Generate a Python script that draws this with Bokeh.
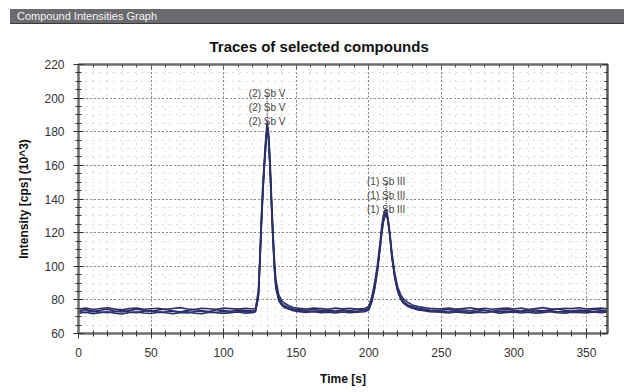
from bokeh.plotting import figure
from bokeh.models import Div, LinearAxis, SingleIntervalTicker, Range1d, ColumnDataSource, CustomJSTickFormatter
from bokeh.layouts import column
from bokeh.core.properties import value
from bokeh.embed import file_html
from bokeh.resources import INLINE

# ---------------- data ----------------
time_s = [
    0, 5, 10, 15, 20, 25, 30, 35, 40, 45, 50, 55, 60, 65, 70, 75, 80, 85, 90, 95, 100, 105, 110, 115, 120,
    122, 124, 125, 126, 127, 128, 129, 130, 131, 132, 133, 134, 135, 136, 138, 140, 142, 145, 148,
    152, 157, 162, 167, 172, 177, 182, 187, 192, 197,
    200, 202, 204, 206, 208, 209, 210, 211, 212, 213, 214, 215, 216, 218, 220, 222, 224, 227, 230, 234, 238, 242, 246,
    250, 255, 260, 265, 270, 275, 280, 285, 290, 295, 300, 305, 310, 315, 320, 325, 330, 335, 340, 345, 350, 355, 360, 364,
]

trace_1 = [
    73.5, 74.2, 73.0, 73.8, 74.5, 73.2, 72.8, 73.6, 74.4, 73.9, 73.1, 74.0, 74.6, 73.4, 72.9, 73.7, 74.3, 73.5, 73.0, 74.1, 73.6, 73.2, 74.0, 73.8, 73.3,
    74, 84, 104, 126, 145, 160, 173, 184, 177, 160, 138, 118, 101, 89, 81, 78, 76.5, 75.5, 74.5,
    74.2, 73.8, 74.4, 73.6, 74.0, 73.4, 74.1, 73.7, 74.3, 73.9,
    75, 80, 88, 99, 114, 122, 128, 131, 132, 129, 123, 115, 106, 94, 86, 81.5, 79, 77, 76, 75, 74.5, 74, 73.8,
    73.9, 74.3, 73.6, 74.1, 73.5, 74.4, 73.8, 73.2, 74.0, 74.5, 73.7, 73.3, 74.2, 73.9, 73.5, 74.1, 74.6, 73.8, 73.4, 74.0, 73.6, 74.3, 73.9, 73.7,
]
trace_2 = [
    72.0, 72.6, 71.8, 72.4, 72.9, 72.1, 71.6, 72.5, 72.8, 72.2, 71.9, 72.7, 72.3, 71.7, 72.4, 72.9, 72.0, 71.8, 72.6, 72.3, 71.9, 72.5, 72.8, 72.1, 72.4,
    73, 82, 101, 123, 143, 158, 171, 182, 176, 158, 136, 116, 99, 88, 80, 77, 75.5, 74.5, 73.5,
    73.0, 72.5, 72.9, 72.3, 72.7, 72.2, 72.8, 72.4, 72.6, 72.9,
    74, 78.5, 86, 97, 112, 120, 126, 129.5, 130.5, 128, 122, 114, 105, 93, 85, 80.5, 78, 76, 75, 74, 73.5, 73, 72.8,
    72.6, 72.2, 72.8, 72.4, 72.0, 72.7, 72.3, 72.9, 72.1, 72.5, 72.8, 72.2, 72.6, 72.0, 72.4, 72.9, 72.3, 72.1, 72.7, 72.5, 72.2, 72.8, 72.4, 72.6,
]
trace_3 = [
    74.6, 75.1, 74.3, 74.9, 75.3, 74.5, 74.1, 74.8, 75.2, 74.4, 74.7, 75.0, 74.2, 74.9, 75.4, 74.6, 74.3, 75.0, 74.7, 74.4, 75.1, 74.8, 74.5, 75.0, 74.6,
    75, 86, 107, 129, 148, 163, 176, 186, 179, 163, 141, 121, 104, 92, 83, 79.5, 78, 76.5, 75.5,
    75.0, 74.6, 75.2, 74.8, 74.4, 75.1, 74.7, 75.0, 74.5, 74.9,
    76, 81.5, 90, 101, 116, 124, 130, 133, 133.5, 130, 124, 116, 107.5, 95.5, 87.5, 83, 80.5, 78.5, 77, 76, 75.5, 75, 74.8,
    74.7, 75.2, 74.5, 74.9, 75.3, 74.6, 75.0, 74.4, 74.8, 75.2, 74.6, 75.1, 74.3, 74.9, 75.4, 74.7, 74.5, 75.0, 74.8, 75.3, 74.6, 74.9, 75.1, 74.7,
]
trace_4 = [
    73.0, 72.5, 73.4, 72.8, 72.3, 73.1, 73.6, 72.7, 72.4, 73.2, 73.5, 72.6, 72.9, 73.3, 72.5, 72.2, 73.0, 73.4, 72.8, 72.6, 73.1, 72.4, 72.9, 73.3, 72.7,
    73.5, 83, 103, 125, 144, 159, 172, 183, 175, 157, 135, 115, 98, 87, 79.5, 77, 75.5, 74.5, 74,
    73.6, 73.1, 73.4, 72.9, 73.3, 72.8, 73.5, 73.0, 73.2, 73.6,
    74.5, 79, 87, 98, 113, 121, 127, 130, 131, 128, 122, 114, 105, 93, 85, 80.5, 78, 76.5, 75.5, 74.5, 74, 73.5, 73.2,
    73.2, 72.8, 73.5, 73.0, 72.6, 73.3, 73.7, 72.9, 73.1, 73.4, 72.7, 73.0, 73.5, 72.8, 73.2, 73.6, 72.9, 73.1, 72.7, 73.3, 73.0, 72.8, 73.4, 73.1,
]
traces = [trace_1, trace_2, trace_3, trace_4]
for t in traces:
    assert len(t) == len(time_s), (len(t), len(time_s))

compound_names = ["(2) Sb V", "(1) Sb III"]
compound_times = [130, 212]
n_labels_per_compound = 3

x_ticks_interval = 50
y_ticks_interval = 20

# ---------------- figure ----------------
FONT = "Liberation Sans"
LINE_COLOR = "#2b3068"

bar = Div(
    text=(
        '<div style="margin-top:9px;margin-left:10px;width:614px;height:15px;background:#6b6b6f;'
        'border-bottom:1px solid #3a3a3a;color:#f4f4f4;font-family:\'Liberation Sans\',Arial,sans-serif;'
        'font-size:11px;line-height:15px;padding-left:7px;box-sizing:border-box;white-space:nowrap;">'
        'Compound Intensities Graph</div>'
    ),
    width=624, height=25, margin=0,
)

p = figure(
    width=624, height=367,
    x_range=Range1d(0, 364.5), y_range=Range1d(60, 220),
    output_backend="svg", toolbar_location=None,
    min_border_left=78, min_border_right=17, min_border_top=39, min_border_bottom=59,
    title="Traces of selected compounds",
    x_axis_label="Time [s]", y_axis_label="Intensity [cps] (10^3)",
)
p.title.align = "left"
p.title.offset = 131
p.title.standoff = 20
p.title.text_font = FONT
p.title.text_font_size = "15px"
p.title.text_font_style = "bold"
p.title.text_color = "#111111"

p.background_fill_color = "white"
p.border_fill_color = "white"
p.outline_line_color = "#6e6e6e"
p.outline_line_width = 2

p.xaxis.ticker = SingleIntervalTicker(interval=x_ticks_interval, num_minor_ticks=5)
p.yaxis.ticker = SingleIntervalTicker(interval=y_ticks_interval, num_minor_ticks=4)

for ax in (p.xaxis[0], p.yaxis[0]):
    ax.axis_line_color = "#6e6e6e"
    ax.axis_line_width = 2
    ax.major_tick_line_color = "#333333"
    ax.minor_tick_line_color = "#333333"
    ax.major_tick_in = 5
    ax.major_tick_out = 5
    ax.minor_tick_in = 3
    ax.minor_tick_out = 3
    ax.major_label_text_font = FONT
    ax.major_label_text_font_size = "12px"
    ax.major_label_text_color = "#333333"
    ax.major_label_standoff = 9
    ax.axis_label_text_font = FONT
    ax.axis_label_text_font_size = "12px"
    ax.axis_label_text_font_style = "bold"
    ax.axis_label_text_color = "#111111"
p.xaxis.axis_label_standoff = 12
p.yaxis.axis_label_standoff = 10

top_axis = LinearAxis(
    ticker=SingleIntervalTicker(interval=x_ticks_interval, num_minor_ticks=5),
    formatter=CustomJSTickFormatter(code="return '';"), major_label_standoff=0,
    axis_line_color="#6e6e6e", axis_line_width=2,
    major_tick_in=5, major_tick_out=0, minor_tick_in=3, minor_tick_out=0,
    major_tick_line_color="#555555", minor_tick_line_color="#555555",
)
right_axis = LinearAxis(
    ticker=SingleIntervalTicker(interval=y_ticks_interval, num_minor_ticks=4),
    formatter=CustomJSTickFormatter(code="return '';"), major_label_standoff=0,
    axis_line_color="#555555", axis_line_width=2,
    major_tick_in=5, major_tick_out=0, minor_tick_in=3, minor_tick_out=0,
    major_tick_line_color="#333333", minor_tick_line_color="#333333",
)
p.add_layout(top_axis, "above")
p.add_layout(right_axis, "right")

for g in (p.xgrid[0], p.ygrid[0]):
    g.grid_line_color = "#222222"
    g.grid_line_dash = "1 3"
    g.grid_line_width = 1
    g.minor_grid_line_color = "#b4b4b4"
    g.minor_grid_line_dash = "1 6"
    g.minor_grid_line_width = 1

for tr in traces:
    p.line(time_s, tr, line_color=LINE_COLOR, line_width=1.6)

# peak labels and leader lines
lab_x, lab_y, lab_text, lab_off = [], [], [], []
seg_x, seg_y0, seg_y1 = [], [], []
for name, rt in zip(compound_names, compound_times):
    i = min(range(len(time_s)), key=lambda k: abs(time_s[k] - rt))
    apex = max(tr[i] for tr in traces)
    for k in range(n_labels_per_compound):
        lab_x.append(rt)
        lab_y.append(apex)
        lab_text.append(name)
        lab_off.append(0 - 14 * k)
    seg_x.append(rt)
    seg_y0.append(apex)
    seg_y1.append(apex + 17)

p.segment(x0=seg_x, y0=seg_y0, x1=seg_x, y1=seg_y1, line_color="#333333", line_dash="1 1", line_width=1)

src = ColumnDataSource(dict(x=lab_x, y=lab_y, text=lab_text, off=lab_off))
p.text(x="x", y="y", text="text", y_offset="off", source=src,
       text_font=value(FONT), text_font_size="10px", text_color="#444444",
       text_align="center", text_baseline="middle")

layout = column(bar, p, spacing=0)
open("out.html", "w").write(file_html(layout, INLINE))
